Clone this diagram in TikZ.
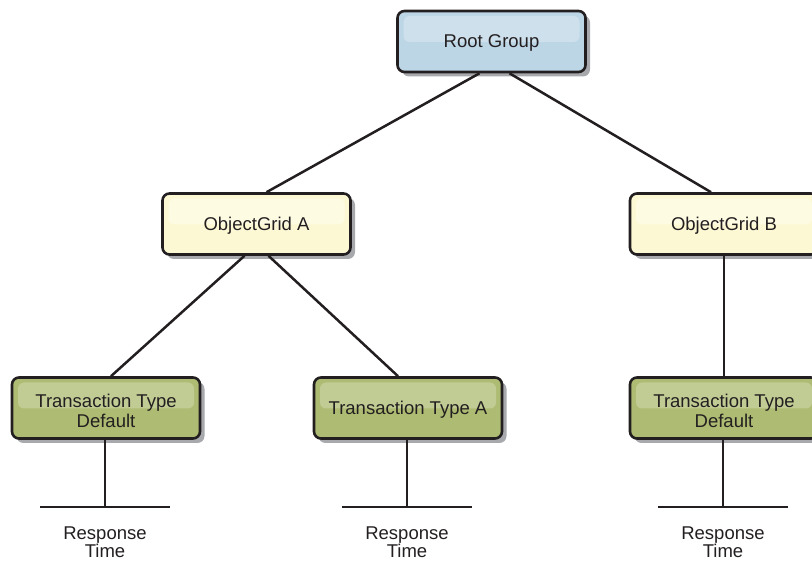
\documentclass[tikz,border=0pt]{standalone}
\usepackage{fontspec}
\setmainfont{Liberation Sans}
\usetikzlibrary{shadows}
\definecolor{ink}{HTML}{231F20}
\definecolor{bluefill}{HTML}{BDD6E6}
\definecolor{bluehl}{HTML}{CDE0EC}
\definecolor{creamfill}{HTML}{FCF8D4}
\definecolor{creamhl}{HTML}{FEFBE3}
\definecolor{greenfill}{HTML}{AEBB72}
\definecolor{greenhl}{HTML}{C1CC94}
\definecolor{shadowgray}{HTML}{A7A9AC}
\newcommand{\toppad}{\rule{0pt}{19.5pt}}
\tikzset{
  box/.style={draw=ink, line width=2.6pt, rounded corners=7pt,
    minimum width=188pt, minimum height=61pt, inner sep=0pt,
    align=center, text=ink, font=\fontsize{18.5}{20}\selectfont, text depth=-1pt,
    drop shadow={shadow xshift=4.5pt, shadow yshift=-4.5pt, fill=shadowgray, opacity=1}},
  hl/.style={path picture={\fill[#1, rounded corners=6pt]
      ([xshift=6pt,yshift=-5pt]path picture bounding box.north west) rectangle
      ([xshift=-6pt,yshift=-31pt]path picture bounding box.north east);}},
  rootbox/.style={box, fill=bluefill, hl=bluehl},
  gridbox/.style={box, fill=creamfill, hl=creamhl},
  txbox/.style={box, fill=greenfill, hl=greenhl},
  link/.style={draw=ink, line width=2.5pt},
  resp/.style={align=center, text=ink, font=\fontsize{18.5}{18}\selectfont, inner sep=0pt}
}
\begin{document}
\begin{tikzpicture}[x=1pt, y=-1pt]
\useasboundingbox (0,0) rectangle (812,561);
\node[rootbox] (root) at (491.5,41.5) {Root Group};
\node[gridbox] (oga) at (256.5,224) {ObjectGrid A};
\node[gridbox] (ogb) at (724,224) {ObjectGrid B};
\node[txbox] (tt1) at (106,408) {\toppad Transaction Type\\Default};
\node[txbox] (tt2) at (408,408) {Transaction Type A};
\node[txbox] (tt3) at (724,408) {\toppad Transaction Type\\Default};

\draw[link] ([xshift=-12pt]root.south) -- ([xshift=10pt]oga.north);
\draw[link] ([xshift=18pt]root.south) -- ([xshift=-13pt]ogb.north);
\draw[link] ([xshift=-12pt]oga.south) -- ([xshift=5pt]tt1.north);
\draw[link] ([xshift=12pt]oga.south) -- ([xshift=-10pt]tt2.north);
\draw[link] (ogb.south) -- (tt3.north);

\coordinate (b1) at (105,507);
\coordinate (b2) at (407,507);
\coordinate (b3) at (723,507);
\draw[link] (tt1.south -| b1) -- (b1);
\draw[link] (tt2.south -| b2) -- (b2);
\draw[link] (tt3.south -| b3) -- (b3);
\draw[link] ([xshift=-65pt]b1) -- ([xshift=65pt]b1);
\draw[link] ([xshift=-65pt]b2) -- ([xshift=65pt]b2);
\draw[link] ([xshift=-65pt]b3) -- ([xshift=65pt]b3);

\node[resp] (r1) at (105,542.5) {Response\\Time};
\node[resp] (r2) at (407,542.5) {Response\\Time};
\node[resp] (r3) at (723,542.5) {Response\\Time};
\end{tikzpicture}
\end{document}
